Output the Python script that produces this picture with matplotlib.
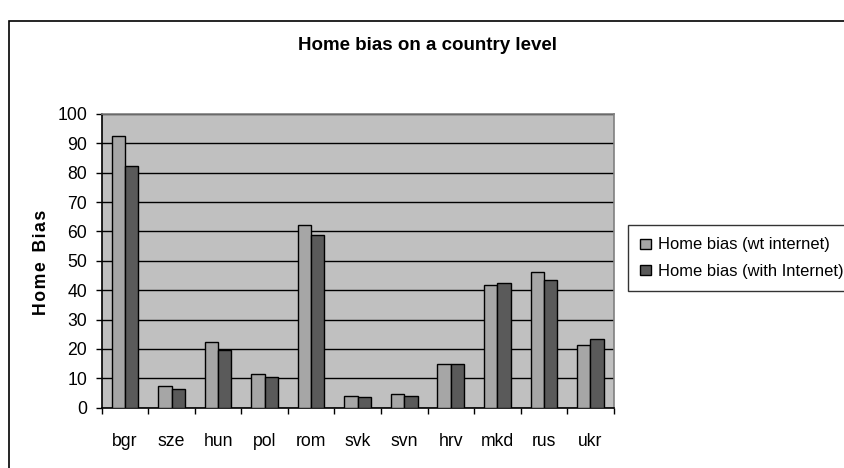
import matplotlib
matplotlib.use("Agg")
import matplotlib.pyplot as plt
import numpy as np
from matplotlib.patches import Rectangle

plt.rcParams['font.family'] = ['Liberation Sans', 'DejaVu Sans']

categories = ["bgr", "sze", "hun", "pol", "rom", "svk", "svn", "hrv", "mkd", "rus", "ukr"]
wt_internet = [92.5, 7.5, 22.3, 11.4, 62.2, 4.1, 4.7, 14.9, 41.7, 46.3, 21.2]
with_internet = [82.2, 6.3, 19.5, 10.3, 58.8, 3.5, 4.1, 14.9, 42.4, 43.5, 23.5]
series_labels = ["Home bias (wt internet)", "Home bias (with Internet)"]
yticks = list(range(0, 101, 10))

W, H = 845, 468
fig = plt.figure(figsize=(W / 100, H / 100), dpi=100)

def px(x0, y0, x1, y1):
    return [x0 / W, 1 - y1 / H, (x1 - x0) / W, (y1 - y0) / H]

# outer chart frame
fig.patches.append(Rectangle((9 / W, -0.1), 2.0, 1 - 21.5 / H + 0.1,
                             transform=fig.transFigure, fill=False,
                             edgecolor="black", linewidth=1.2))

ax = fig.add_axes(px(101.7, 114, 613.7, 407.7))
ax.set_facecolor("#C0C0C0")

x = np.arange(len(categories))
w = 1 / 3.5
b1 = ax.bar(x - w / 2, wt_internet, width=w, color="#A6A6A6", edgecolor="black", linewidth=1.0, zorder=3)
b2 = ax.bar(x + w / 2, with_internet, width=w, color="#5A5A5A", edgecolor="black", linewidth=1.0, zorder=3)

tick_fs = 12.7
ax.set_xlim(-0.5, len(categories) - 0.5)
ax.set_ylim(0, 100)
ax.set_yticks(yticks)
ax.set_yticklabels([str(v) for v in yticks], fontsize=tick_fs)
ax.yaxis.grid(True, color="black", linewidth=1.0, zorder=1)
ax.set_axisbelow(True)

ax.set_xticks(x)
ax.set_xticklabels(categories, fontsize=tick_fs)
ax.set_xticks(np.arange(-0.5, len(categories), 1.0), minor=True)
ax.tick_params(axis="x", which="major", length=0, pad=18)
ax.tick_params(axis="x", which="minor", length=4.5, width=1.0, direction="out", color="black")
ax.tick_params(axis="y", length=4.5, width=1.0, direction="out", color="black", pad=6)

for s in ["top", "right"]:
    ax.spines[s].set_color("#808080")
    ax.spines[s].set_linewidth(1.2)
for s in ["left", "bottom"]:
    ax.spines[s].set_color("black")
    ax.spines[s].set_linewidth(1.2)

fig.text(428 / W, 1 - 46 / H, "Home bias on a country level", ha="center", va="center",
         fontsize=13.5, fontweight="bold")
fig.text(41.7 / W, 1 - 262 / H, "\u200a".join("Home") + "  " + "\u200a".join("Bias"),
         rotation=90, ha="center", va="center", fontsize=12.7, fontweight="bold")

leg = fig.legend([b1, b2], series_labels, loc="upper left",
                 bbox_to_anchor=(628 / W, 1 - 225 / H), borderaxespad=0,
                 fontsize=11.9, frameon=True, fancybox=False, edgecolor="black",
                 handlelength=0.65, handleheight=0.55, handletextpad=0.4,
                 labelspacing=0.7, borderpad=0.75)
leg.get_frame().set_linewidth(1.0)

fig.savefig("out.png", dpi=100)
